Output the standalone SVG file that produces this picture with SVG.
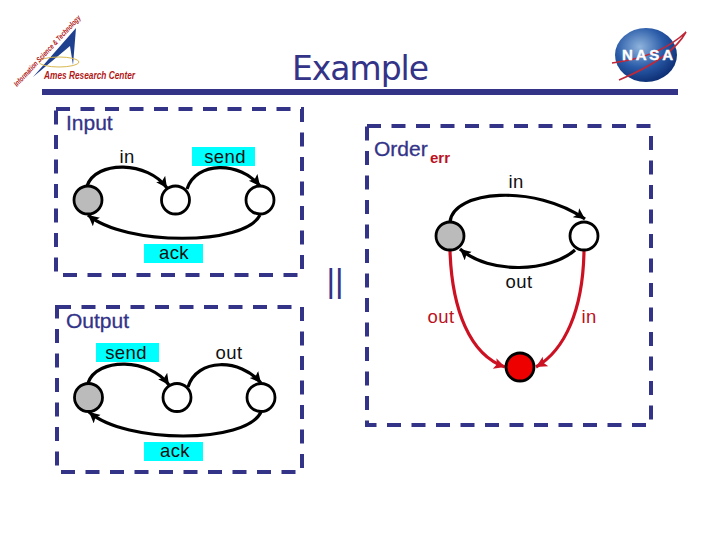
<svg xmlns="http://www.w3.org/2000/svg" width="720" height="540" viewBox="0 0 720 540">
<style>
text{font-family:"Liberation Sans",Arial,sans-serif}
.box{fill:none;stroke:#333388;stroke-width:4;stroke-dasharray:14 10.5}
.st{fill:#fff;stroke:#000;stroke-width:2.8}
.k{fill:none;stroke:#000;stroke-width:3.2;marker-end:url(#ak)}
.r{fill:none;stroke:#cc1122;stroke-width:3.2;marker-end:url(#ar)}
.lb{font-size:18.5px;fill:#111;text-anchor:middle;letter-spacing:.4px}
.rl{font-size:18.5px;fill:#bb1122;text-anchor:middle;letter-spacing:.4px}
.tt{font-size:21px;fill:#333388;stroke:#333388;stroke-width:.3}
.cy{fill:#00ffff}
</style>
<defs>
<marker id="ak" markerUnits="userSpaceOnUse" markerWidth="13" markerHeight="12" refX="11" refY="5.5" orient="auto"><path d="M0 0L11 5.5L0 11L2.5 5.5Z" fill="#000"/></marker>
<marker id="ar" markerUnits="userSpaceOnUse" markerWidth="13" markerHeight="12" refX="11" refY="5.5" orient="auto"><path d="M0 0L11 5.5L0 11L2.5 5.5Z" fill="#cc1122"/></marker>
<radialGradient id="globe" cx=".4" cy=".35" r=".7"><stop offset="0" stop-color="#8fb4dc"/><stop offset=".55" stop-color="#2a5ba8"/><stop offset="1" stop-color="#0a2a70"/></radialGradient>
</defs>
<rect width="720" height="540" fill="#fff"/>
<g id="header">
<rect x="42" y="89" width="636" height="6" fill="#333388"/>
<text x="292" y="80" font-size="33" fill="#333388" style="font-family:'DejaVu Sans',sans-serif" textLength="137" lengthAdjust="spacing">Example</text>
</g>
<g id="ames-logo">
<path d="M33 77L76 28L73 65L70 46Z" fill="#1f3f8f"/>
<ellipse cx="59" cy="62" rx="20" ry="5" fill="none" stroke="#d8b850" stroke-width="1"/>
<text x="44" y="79" font-size="11.5" font-weight="bold" font-style="italic" fill="#b01818" textLength="91" lengthAdjust="spacingAndGlyphs">Ames Research Center</text>
<text transform="translate(17 87) rotate(-47)" font-size="7.5" font-weight="bold" font-style="italic" fill="#b01818" textLength="94" lengthAdjust="spacingAndGlyphs">Information Science &amp; Technology</text>
</g>
<g id="nasa-logo">
<ellipse cx="646" cy="55" rx="31" ry="27" fill="url(#globe)"/>
<path d="M612 63Q660 57 686 32Q672 58 619 80" fill="none" stroke="#c02838" stroke-width="1.6"/>
<text x="647.5" y="60" font-size="15" font-weight="bold" fill="#fff" stroke="#fff" stroke-width=".4" text-anchor="middle" textLength="51" lengthAdjust="spacing">NASA</text>
</g>
<g id="input">
<rect class="box" x="56" y="109" width="246" height="166"/>
<text class="tt" x="66" y="130">Input</text>
<rect class="cy" x="192" y="147" width="63" height="19"/>
<rect class="cy" x="144" y="244" width="59" height="19"/>
<text class="lb" x="127" y="163">in</text>
<text class="lb" x="225" y="163">send</text>
<text class="lb" x="174" y="259">ack</text>
</g>
<g id="output">
<rect class="box" x="57" y="307" width="245" height="165"/>
<text class="tt" x="66" y="328">Output</text>
<rect class="cy" x="96" y="343" width="63" height="19"/>
<rect class="cy" x="144" y="442" width="59" height="19"/>
<text class="lb" x="126" y="359">send</text>
<text class="lb" x="229" y="359">out</text>
<text class="lb" x="175" y="457">ack</text>
</g>
<g id="order">
<rect class="box" x="367" y="126" width="284" height="299"/>
<text class="tt" x="374" y="156">Order</text>
<text x="430" y="163" font-size="15" font-weight="bold" fill="#bb1122">err</text>
<text class="lb" x="516" y="188">in</text>
<text class="lb" x="519" y="288">out</text>
<text class="rl" x="441" y="323">out</text>
<text class="rl" x="589" y="323">in</text>
</g>
<text id="parallel" x="335" y="292" font-size="33" fill="#333388" text-anchor="middle">||</text>
<g id="connectors">
<path class="k" d="M87 186C96 160 148 161 167 188"/>
<path class="k" d="M187 189C196 161 240 161 260 186"/>
<path class="k" d="M260 215C245 246 125 246 88 215"/>
<path class="k" d="M88 383C97 357 150 358 169 385"/>
<path class="k" d="M188 387C197 358 240 358 261 383"/>
<path class="k" d="M261 412C246 444 126 444 89 412"/>
<path class="k" d="M450 222C453 190 535 184 585 219"/>
<path class="k" d="M575 250C550 272 490 275 460 249"/>
<path class="r" d="M450 251C452 310 470 355 505 367"/>
<path class="r" d="M584 251C583 310 565 350 536 367"/>
</g>
<g id="s1"><circle class="st" cx="88" cy="200" r="14" style="fill:#bbb"/></g>
<g id="s2"><circle class="st" cx="175.500" cy="200" r="14"/></g>
<g id="s3"><circle class="st" cx="260" cy="200" r="14"/></g>
<g id="s4"><circle class="st" cx="88.500" cy="397.500" r="14" style="fill:#bbb"/></g>
<g id="s5"><circle class="st" cx="177" cy="397.500" r="14"/></g>
<g id="s6"><circle class="st" cx="261" cy="397.500" r="14"/></g>
<g id="s7"><circle class="st" cx="450" cy="236" r="14" style="fill:#bbb"/></g>
<g id="s8"><circle class="st" cx="584" cy="236" r="14"/></g>
<g id="s9"><circle class="st" cx="520" cy="367" r="14" style="fill:#ee0000"/></g>
</svg>
